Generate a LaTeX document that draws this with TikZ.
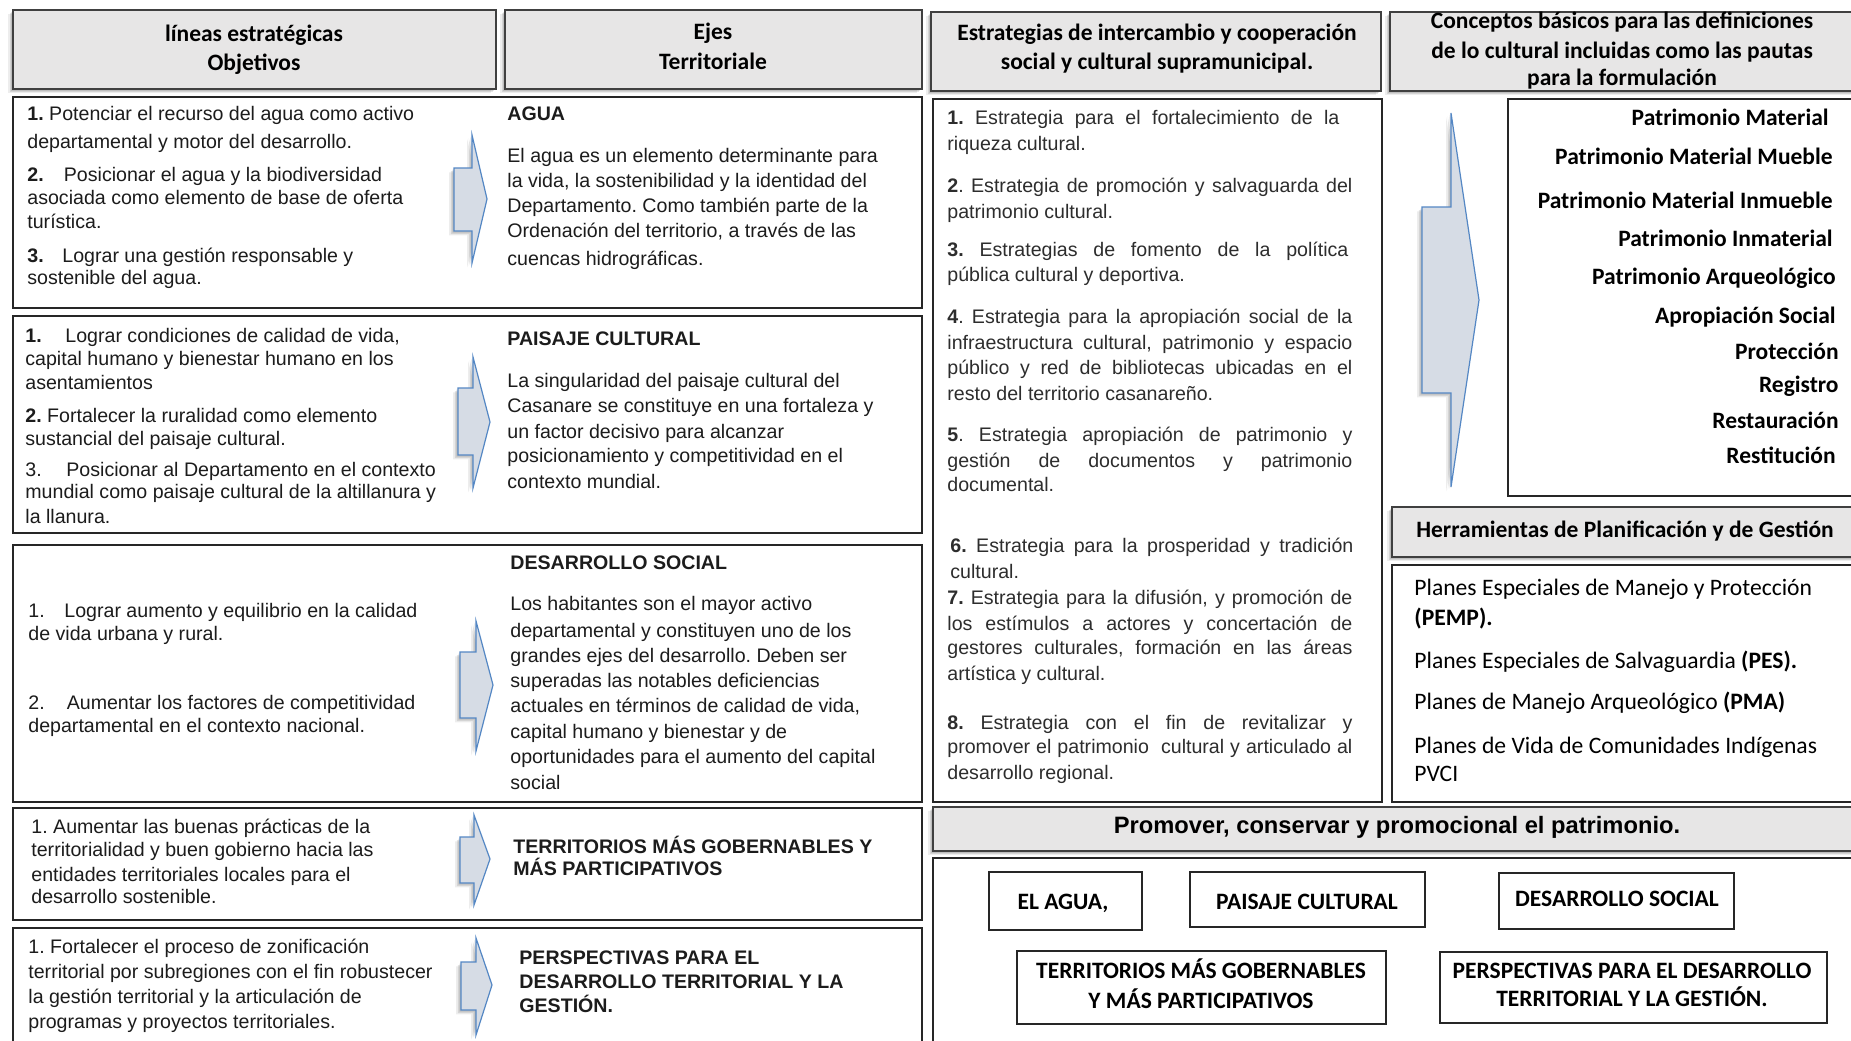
\documentclass[tikz,border=0pt]{standalone}
\usepackage{fontspec}
\setmainfont{Liberation Sans}
\newfontfamily\cfont{Carlito}
\frenchspacing
\definecolor{hdrfill}{RGB}{231,230,230}
\definecolor{arrfill}{RGB}{214,220,229}
\definecolor{arrline}{RGB}{84,135,196}
\definecolor{txt}{RGB}{28,28,28}
\definecolor{txtc}{RGB}{45,45,45}
\tikzset{
 softshadow/.style={
   preaction={fill=black,opacity=0.10,transform canvas={xshift=-0.8pt,yshift=-0.8pt}},
   preaction={fill=black,opacity=0.10,transform canvas={xshift=-1.6pt,yshift=-1.6pt}},
   preaction={fill=black,opacity=0.07,transform canvas={xshift=-2.4pt,yshift=-2.2pt}}},
 hdr/.style={fill=hdrfill, draw=black!75, line width=1pt, softshadow},
 cbox/.style={draw=black!85, line width=0.75pt},
 arr/.style={fill=arrfill, draw=arrline, line width=0.6pt, line join=miter, softshadow},
 rt/.style={anchor=west, inner sep=0pt, text=txt, font=\fontsize{9.8}{12}\selectfont, text height=7pt, text depth=2pt},
 rtc/.style={rt, text=txtc},
 rtb/.style={rt, font=\fontsize{9.8}{12}\selectfont\bfseries},
 ct/.style={inner sep=0pt, text=black, font=\cfont\fontsize{11.75}{14}\selectfont\bfseries, text height=8.5pt, text depth=2.5pt},
 cre/.style={ct, anchor=east},
 cr/.style={anchor=west, inner sep=0pt, text=black, font=\cfont\fontsize{11.8}{14}\selectfont, text height=8.5pt, text depth=2.5pt},
 pt/.style={inner sep=0pt, text=black, font=\fontsize{11.85}{14}\selectfont\bfseries, text height=8.5pt, text depth=2.5pt},
}
\newcommand\blockarrow[8]{\draw[arr] (#2,#4) -- (#2,#5) -- (#1,#5) -- (#1,#6) -- (#2,#6) -- (#2,#7) -- (#3,#8) -- cycle;}
\newcommand\jl[2]{\makebox[#1][s]{#2}}
\newcommand\nb[2]{\makebox[#1][l]{#2}}
\begin{document}
\frenchspacing
\begin{tikzpicture}[x=0.5pt,y=-0.5pt]
\useasboundingbox (0,0) rectangle (1851,1040);
\clip (0,0) rectangle (1851,1040);
\fill[white] (0,0) rectangle (1851,1040);

% ---------------- headers
\path[hdr] (13,10) rectangle (496,89);
\path[hdr] (505,10) rectangle (922,89);
\path[hdr] (931,12) rectangle (1381,91);
\path[hdr] (1390,12) rectangle (1870,91);
\node[ct] (h1a) at (254,35) {líneas estratégicas};
\node[ct] (h1b) at (254,64) {Objetivos};
\node[ct] (h2a) at (713,33) {Ejes};
\node[ct] (h2b) at (713,63) {Territoriale};
\node[ct] (h3a) at (1157,34) {Estrategias de intercambio y cooperación};
\node[ct] (h3b) at (1157,63) {social y cultural supramunicipal.};
\node[ct] (h4a) at (1622,22) {Conceptos básicos para las definiciones};
\node[ct] (h4b) at (1622,52) {de lo cultural incluidas como las pautas};
\node[ct] (h4c) at (1622,79) {para la formulación};

% ---------------- row boxes
\draw[cbox] (13,97) rectangle (922,308);
\draw[cbox] (13,316) rectangle (922,533);
\draw[cbox] (13,545) rectangle (922,802);
\draw[cbox] (13,808) rectangle (922,920);
\draw[cbox] (13,928) rectangle (922,1060);

% arrows in rows
\blockarrow{454}{472}{487}{135}{168}{231}{263}{199}
\blockarrow{458}{473}{490}{357}{388}{455}{488}{422}
\blockarrow{460}{476}{493}{621}{652}{718}{751}{685}
\blockarrow{460}{474}{490}{815}{837}{883}{905}{859}
\blockarrow{461}{476}{492}{938}{962}{1010}{1035}{985}

% row 1
\node[rt] (r1a) at (27,115) {\textbf{1.} Potenciar el recurso del agua como activo};
\node[rt] (r1b) at (27,143) {departamental y motor del desarrollo.};
\node[rt] (r1c) at (27,176) {\nb{18.25pt}{\textbf{2.}}Posicionar el agua y la biodiversidad};
\node[rt] (r1d) at (27,199) {asociada como elemento de base de oferta};
\node[rt] (r1e) at (27,223) {turística.};
\node[rt] (r1f) at (27,257) {\nb{17.5pt}{\textbf{3.}}Lograr una gestión responsable y};
\node[rt] (r1g) at (27,279) {sostenible del agua.};
\node[rtb] (r1t) at (507,115) {AGUA};
\node[rt] (r1p1) at (507,157) {El agua es un elemento determinante para};
\node[rt] (r1p2) at (507,182) {la vida, la sostenibilidad y la identidad del};
\node[rt] (r1p3) at (507,207) {Departamento. Como también parte de la};
\node[rt] (r1p4) at (507,232) {Ordenación del territorio, a través de las};
\node[rt] (r1p5) at (507,260) {cuencas hidrográficas.};

% row 2
\node[rt] (r2a) at (25,337) {\nb{20pt}{\textbf{1.}}Lograr condiciones de calidad de vida,};
\node[rt] (r2b) at (25,360) {capital humano y bienestar humano en los};
\node[rt] (r2c) at (25,384) {asentamientos};
\node[rt] (r2d) at (25,417) {\textbf{2.} Fortalecer la ruralidad como elemento};
\node[rt] (r2e) at (25,440) {sustancial del paisaje cultural.};
\node[rt] (r2f) at (25,471) {\nb{20.5pt}{3.}Posicionar al Departamento en el contexto};
\node[rt] (r2g) at (25,493) {mundial como paisaje cultural de la altillanura y};
\node[rt] (r2h) at (25,518) {la llanura.};
\node[rtb] (r2t) at (507,340) {PAISAJE CULTURAL};
\node[rt] (r2p1) at (507,382) {La singularidad del paisaje cultural del};
\node[rt] (r2p2) at (507,407) {Casanare se constituye en una fortaleza y};
\node[rt] (r2p3) at (507,433) {un factor decisivo para alcanzar};
\node[rt] (r2p4) at (507,457) {posicionamiento y competitividad en el};
\node[rt] (r2p5) at (507,483) {contexto mundial.};

% row 3
\node[rt] (r3a) at (28,612) {\nb{18pt}{1.}Lograr aumento y equilibrio en la calidad};
\node[rt] (r3b) at (28,635) {de vida urbana y rural.};
\node[rt] (r3c) at (28,704) {\nb{19.2pt}{2.}Aumentar los factores de competitividad};
\node[rt] (r3d) at (28,727) {departamental en el contexto nacional.};
\node[rtb] (r3t) at (510,564) {DESARROLLO SOCIAL};
\node[rt] (r3p1) at (510,605) {Los habitantes son el mayor activo};
\node[rt] (r3p2) at (510,632) {departamental y constituyen uno de los};
\node[rt] (r3p3) at (510,657) {grandes ejes del desarrollo. Deben ser};
\node[rt] (r3p4) at (510,682) {superadas las notables deficiencias};
\node[rt] (r3p5) at (510,707) {actuales en términos de calidad de vida,};
\node[rt] (r3p6) at (510,733) {capital humano y bienestar y de};
\node[rt] (r3p7) at (510,758) {oportunidades para el aumento del capital};
\node[rt] (r3p8) at (510,784) {social};

% row 4
\node[rt] (r4a) at (31,828) {1. Aumentar las buenas prácticas de la};
\node[rt] (r4b) at (31,851) {territorialidad y buen gobierno hacia las};
\node[rt] (r4c) at (31,876) {entidades territoriales locales para el};
\node[rt] (r4d) at (31,898) {desarrollo sostenible.};
\node[rtb] (r4t1) at (513,848) {TERRITORIOS MÁS GOBERNABLES Y};
\node[rtb] (r4t2) at (513,870) {MÁS PARTICIPATIVOS};

% row 5
\node[rt] (r5a) at (28,948) {1. Fortalecer el proceso de zonificación};
\node[rt] (r5b) at (28,973) {territorial por subregiones con el fin robustecer};
\node[rt] (r5c) at (28,998) {la gestión territorial y la articulación de};
\node[rt] (r5d) at (28,1023) {programas y proyectos territoriales.};
\node[rtb] (r5t1) at (519,959) {PERSPECTIVAS PARA EL};
\node[rtb] (r5t2) at (519,983) {DESARROLLO TERRITORIAL Y LA};
\node[rtb] (r5t3) at (519,1007) {GESTIÓN.};

% ---------------- column 3
\draw[cbox] (933,99) rectangle (1382,802);
\node[rtc] (c1a) at (947,119) {\jl{196pt}{\textbf{1.} Estrategia para el fortalecimiento de la}};
\node[rtc] (c1b) at (947,145) {riqueza cultural.};
\node[rtc] (c2a) at (947,187) {\jl{202.5pt}{\textbf{2}. Estrategia de promoción y salvaguarda del}};
\node[rtc] (c2b) at (947,213) {patrimonio cultural.};
\node[rtc] (c3a) at (947,251) {\jl{200.5pt}{\textbf{3.} Estrategias de fomento de la política}};
\node[rtc] (c3b) at (947,276) {pública cultural y deportiva.};
\node[rtc] (c4a) at (947,318) {\jl{202.5pt}{\textbf{4}. Estrategia para la apropiación social de la}};
\node[rtc] (c4b) at (947,344) {\jl{202.5pt}{infraestructura cultural, patrimonio y espacio}};
\node[rtc] (c4c) at (947,369) {\jl{202.5pt}{público y red de bibliotecas ubicadas en el}};
\node[rtc] (c4d) at (947,395) {resto del territorio casanareño.};
\node[rtc] (c5a) at (947,436) {\jl{202.5pt}{\textbf{5}. Estrategia apropiación de patrimonio y}};
\node[rtc] (c5b) at (947,462) {\jl{202.5pt}{gestión de documentos y patrimonio}};
\node[rtc] (c5c) at (947,486) {documental.};
\node[rtc] (c6a) at (950,547) {\jl{201.5pt}{\textbf{6.} Estrategia para la prosperidad y tradición}};
\node[rtc] (c6b) at (950,573) {cultural.};
\node[rtc] (c7a) at (947,599) {\jl{202.5pt}{\textbf{7.} Estrategia para la difusión, y promoción de}};
\node[rtc] (c7b) at (947,625) {\jl{202.5pt}{los estímulos a actores y concertación de}};
\node[rtc] (c7c) at (947,649) {\jl{202.5pt}{gestores culturales, formación en las áreas}};
\node[rtc] (c7d) at (947,675) {artística y cultural.};
\node[rtc] (c8a) at (947,724) {\jl{202.5pt}{\textbf{8.} Estrategia con el fin de revitalizar y}};
\node[rtc] (c8b) at (947,748) {\jl{202.5pt}{promover el patrimonio\ \ cultural y articulado al}};
\node[rtc] (c8c) at (947,774) {desarrollo regional.};

% ---------------- column 4
\blockarrow{1422}{1451}{1479}{113}{207}{393}{487}{300}
\draw[cbox] (1508,99) rectangle (1870,496);
\node[cre] (k1) at (1829,119) {Patrimonio Material};
\node[cre] (k2) at (1833,158) {Patrimonio Material Mueble};
\node[cre] (k3) at (1833,202) {Patrimonio Material Inmueble};
\node[cre] (k4) at (1833,240) {Patrimonio Inmaterial};
\node[cre] (k5) at (1836,278) {Patrimonio Arqueológico};
\node[cre] (k6) at (1836,317) {Apropiación Social};
\node[cre] (k7) at (1839,353) {Protección};
\node[cre] (k8) at (1839,386) {Registro};
\node[cre] (k9) at (1839,422) {Restauración};
\node[cre] (k10) at (1836,457) {Restitución};

\path[hdr] (1392,507) rectangle (1870,557);
\node[ct] (hh) at (1625,531) {Herramientas de Planificación y de Gestión};
\draw[cbox] (1392,565) rectangle (1870,802);
\node[cr] (t1a) at (1414,589) {Planes Especiales de Manejo y Protección};
\node[cr] (t1b) at (1414,619) {\bfseries (PEMP).};
\node[cr] (t2) at (1414,662) {Planes Especiales de Salvaguardia \textbf{(PES).}};
\node[cr] (t3) at (1414,703) {Planes de Manejo Arqueológico \textbf{(PMA)}};
\node[cr] (t4a) at (1414,747) {Planes de Vida de Comunidades Indígenas};
\node[cr] (t4b) at (1414,775) {PVCI};

% ---------------- bottom right
\path[hdr] (933,807) rectangle (1870,851);
\node[pt] (pm) at (1397,827) {Promover, conservar y promocional el patrimonio.};
\draw[cbox] (933,858) rectangle (1870,1060);
\draw[cbox] (989,872) rectangle (1142,930);
\draw[cbox] (1190,872) rectangle (1425,927);
\draw[cbox] (1499,873) rectangle (1734,929);
\draw[cbox] (1017,951) rectangle (1386,1024);
\draw[cbox] (1440,952) rectangle (1827,1023);
\node[ct] (b1) at (1063,903) {EL AGUA,};
\node[ct] (b2) at (1307,903) {PAISAJE CULTURAL};
\node[ct] (b3) at (1617,900) {DESARROLLO SOCIAL};
\node[ct] (b4a) at (1201,972) {TERRITORIOS MÁS GOBERNABLES};
\node[ct] (b4b) at (1201,1002) {Y MÁS PARTICIPATIVOS};
\node[ct] (b5a) at (1632,972) {PERSPECTIVAS PARA EL DESARROLLO};
\node[ct] (b5b) at (1632,1000) {TERRITORIAL Y LA GESTIÓN.};
\end{tikzpicture}
\end{document}
